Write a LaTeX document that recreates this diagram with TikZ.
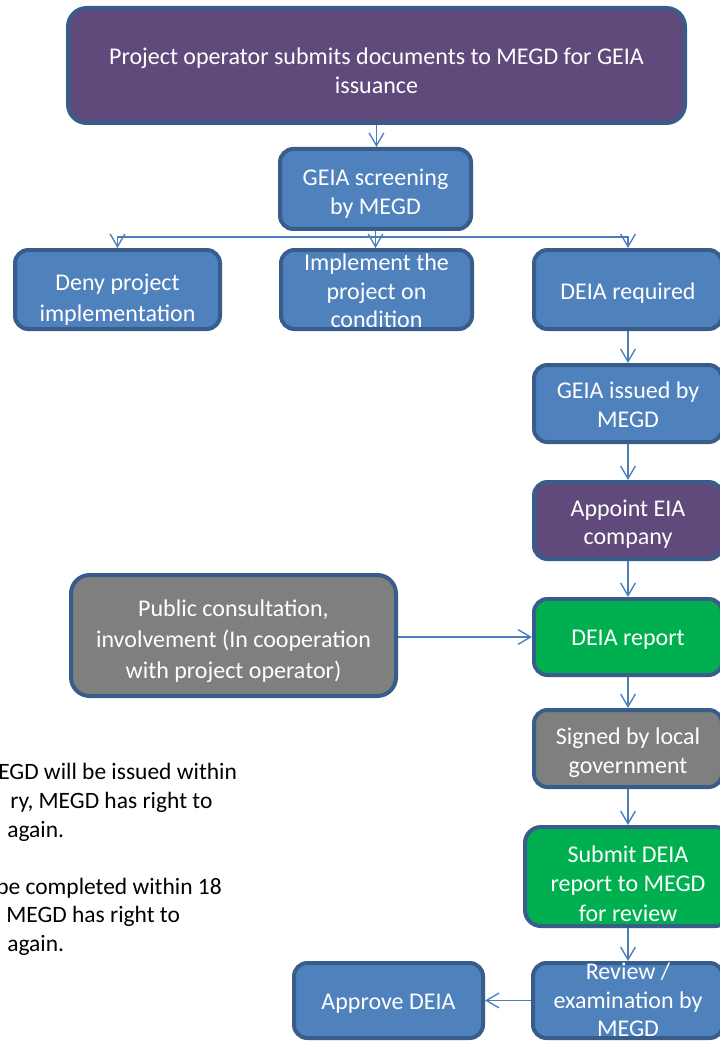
\documentclass[tikz,border=0pt]{standalone}
\usepackage{fontspec}
\setmainfont{Carlito}
\usetikzlibrary{arrows.meta}
\definecolor{boxblue}{HTML}{4F81BD}
\definecolor{boxborder}{HTML}{385D8A}
\definecolor{boxpurple}{HTML}{604A7B}
\definecolor{boxgreen}{HTML}{00B050}
\definecolor{boxgray}{HTML}{7F7F7F}
\definecolor{connblue}{HTML}{4A7EBB}
\newcommand\hs[1]{\rule{0pt}{#1}}
\newcommand\ds{\rule[-5pt]{0pt}{5pt}}
\begin{document}
\begin{tikzpicture}[x=0.75pt,y=-0.75pt,
  box/.style={draw=boxborder, line width=3pt, rounded corners=10pt, inner sep=0pt,
    align=center, text=white, font=\fontsize{18pt}{21.5pt}\selectfont},
  bluebox/.style={box, fill=boxblue},
  purplebox/.style={box, fill=boxpurple},
  greenbox/.style={box, fill=boxgreen},
  graybox/.style={box, fill=boxgray},
  conn/.style={draw=connblue, line width=1pt, -{Straight Barb[length=9.5pt,width=11pt]}},
  note/.style={anchor=base west, inner sep=0pt, text=black, font=\fontsize{17.6pt}{21.5pt}\selectfont}]
\useasboundingbox (0,0) rectangle (720,1041);
\clip (0,0) rectangle (720,1041);
\fill[white] (0,0) rectangle (720,1041);

% boxes
\node[purplebox, rounded corners=14pt, minimum width=462.75pt, minimum height=86.25pt] (top) at (376.5,65.5)
  {\hs{25pt}Project operator submits documents to MEGD for GEIA\\issuance\ds};
\node[bluebox, minimum width=143.25pt, minimum height=60pt] (screen) at (375.5,189)
  {\hs{21.2pt}GEIA screening\\by MEGD\ds};
\node[bluebox, minimum width=153.75pt, minimum height=59.25pt] (deny) at (117.5,289.5)
  {\hs{29.75pt}Deny project\\[1.75pt]implementation\ds};
\node[bluebox, minimum width=143.25pt, minimum height=59.25pt] (impl) at (376.5,289.5)
  {\smash{Implement the}\hs{14.5pt}\\project on\\condition};
\node[bluebox, minimum width=141pt, minimum height=59.25pt] (req) at (628,289.5)
  {\hs{20pt}DEIA required\ds};
\node[bluebox, minimum width=141pt, minimum height=57.75pt] (issued) at (628,403.5)
  {\hs{19pt}GEIA issued by\\MEGD\ds};
\node[purplebox, minimum width=141pt, minimum height=57.75pt] (appoint) at (628,520.5)
  {\hs{19.75pt}Appoint EIA\\company\ds};
\node[greenbox, minimum width=141pt, minimum height=57pt] (report) at (628,637)
  {\hs{17.75pt}DEIA report\ds};
\node[graybox, rounded corners=14pt, minimum width=243.75pt, minimum height=90.75pt] (public) at (233.5,635.5)
  {\hs{23pt}Public consultation,\\[1.4pt]involvement (In cooperation\\[1.4pt]with project operator)\ds};
\node[graybox, minimum width=141pt, minimum height=57.75pt] (signed) at (628,748.5)
  {\hs{20.5pt}Signed by local\\government\ds};
\node[greenbox, rounded corners=12pt, minimum width=154.5pt, minimum height=74.25pt] (submit) at (628,876.5)
  {\hs{23pt}Submit DEIA\\[0.5pt]report to MEGD\\[0.5pt]for review};
\node[bluebox, minimum width=142.5pt, minimum height=56.25pt] (review) at (628,1000.5)
  {\smash{Review /}\hs{11.5pt}\\examination by\\MEGD};
\node[bluebox, minimum width=141.75pt, minimum height=56.25pt] (approve) at (388.5,1000.5)
  {\hs{18.5pt}Approve DEIA\ds};

% connectors
\coordinate (br) at (375.5,237);
\draw[conn] (top.south) -- (top.south |- screen.north);
\draw[conn] (screen.south) -- (br) -| (deny.north);
\draw[conn] (br) -| (req.north);
\draw[conn] (screen.south) -- (screen.south |- impl.north);
\draw[conn] (req.south) -- (issued.north);
\draw[conn] (issued.south) -- (appoint.north);
\draw[conn] (appoint.south) -- (report.north);
\draw[conn] (public.east |- report.west) -- (report.west);
\draw[conn] (report.south) -- (signed.north);
\draw[conn] (signed.south) -- (submit.north);
\draw[conn] (submit.south) -- (review.north);
\draw[conn] (review.west) -- (approve.east);

% cut-off note text
\node[note] (t1) at (-2,779) {EGD will be issued within};
\node[note] (t2) at (10,808) {ry, MEGD has right to};
\node[note] (t3) at (7,837) {again.};
\node[note] (t5) at (-4,894) {be completed within 18};
\node[note] (t6) at (6,922) {MEGD has right to};
\node[note] (t7) at (7,951) {again.};
\end{tikzpicture}
\end{document}
